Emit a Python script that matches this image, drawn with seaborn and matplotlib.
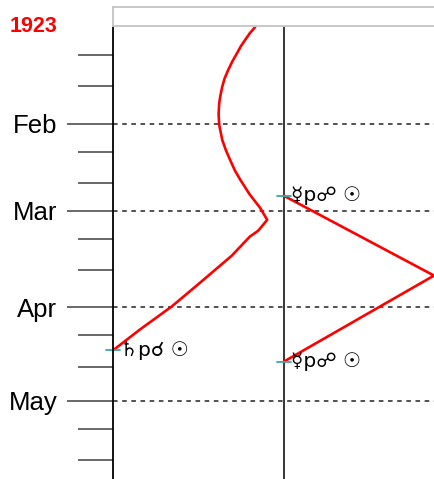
import numpy as np
import pandas as pd
import matplotlib
matplotlib.use('Agg')
import matplotlib.pyplot as plt
import seaborn as sns

# days counted from Jan 1 1923 (= 0)
year_label = '1923'
month_names = ['Feb', 'Mar', 'Apr', 'May']
month_days = [31, 59, 90, 120]
minor_days = [9, 19, 40, 50, 68, 78, 99, 109, 129, 139]

# planet track (x in arbitrary degree-like units, 0 = centre line)
track1_day = [0.0, 2.0, 4.2, 6.2, 8.3, 11.0, 13.8, 16.5, 19.2, 22.0, 24.4, 28.0, 31.4, 36.2,
              39.5, 42.6, 46.0, 49.0, 53.8, 58.0, 61.9, 65.4, 67.3, 73.4, 82.1, 89.7, 97.1, 103.8]
track1_x = [-4.8, -5.7, -6.5, -7.2, -7.8, -8.6, -9.3, -9.9, -10.3, -10.6, -10.8, -10.9, -10.8,
            -10.3, -9.7, -9.0, -8.2, -7.3, -5.7, -4.0, -2.8, -4.3, -5.7, -8.7, -14.0, -18.7,
            -24.0, -28.5]

track2_day = [54.2, 67.0, 79.8, 93.6, 107.4]
track2_x = [0.0, 12.5, 25.0, 12.5, 0.0]

# aspect events: (day, x, label)
event_day = [103.8, 54.2, 107.4]
event_x = [-28.5, 0.0, 0.0]
event_text = ['\u2644p\u260c \u2609', '\u263fp\u260d \u2609', '\u263fp\u260d \u2609']

sns.set_style('white')
plt.rcParams['font.family'] = ['Liberation Sans', 'DejaVu Sans']
plt.rcParams['text.color'] = 'black'
plt.rcParams['ytick.labelcolor'] = 'black'

W, H = 434, 479
fig = plt.figure(figsize=(W / 100, H / 100), dpi=100)

ax = fig.add_axes([113 / W, 0, (W - 113) / W, (H - 27) / H])
ax.set_xlim(-28.5, 25)
ax.set_ylim(145.1, 0)

for s in ['top', 'right', 'bottom']:
    ax.spines[s].set_visible(False)
ax.spines['left'].set_color('black')
ax.spines['left'].set_linewidth(1.3)

ax.set_yticks(month_days)
ax.set_yticklabels(month_names, fontsize=18.5, color='black')
ax.set_yticks(minor_days, minor=True)
ax.tick_params(axis='y', which='major', direction='out', length=33, width=1.1,
               color='#404040', pad=7, left=True)
ax.tick_params(axis='y', which='minor', direction='out', length=25, width=1.1,
               color='#404040', left=True)
ax.set_xticks([])
ax.yaxis.grid(True, which='major', color='#222222', linestyle=(0, (3, 3)), linewidth=1.1)
ax.xaxis.grid(False)

ax.axvline(0, color='black', linewidth=1.1)

df1 = pd.DataFrame({'day': track1_day, 'x': track1_x})
df2 = pd.DataFrame({'day': track2_day, 'x': track2_x})
sns.lineplot(data=df1, x='x', y='day', orient='y', estimator=None, color='red',
             linewidth=1.9, ax=ax)
sns.lineplot(data=df2, x='x', y='day', orient='y', estimator=None, color='red',
             linewidth=1.9, ax=ax)
ax.set_xlabel('')
ax.set_ylabel('')

for d, xv, t in zip(event_day, event_x, event_text):
    ax.plot([xv - 1.2, xv + 1.2], [d, d], color='#3aa8a8', linewidth=1.3, clip_on=False)
    ax.text(xv + 1.1, d, t, fontsize=14.5, family='DejaVu Sans', va='center', ha='left',
            color='black')

# light header box above the plot
top = fig.add_axes([113 / W, (H - 26) / H, 1, 19 / H])
top.set_xticks([])
top.set_yticks([])
for s in top.spines.values():
    s.set_color('#c4c4c4')
    s.set_linewidth(1.3)

fig.text(10 / W, 1 - 27 / H, year_label, color='red', fontsize=15.5, fontweight='bold',
         va='center', ha='left')

fig.savefig('out.png', dpi=100)
